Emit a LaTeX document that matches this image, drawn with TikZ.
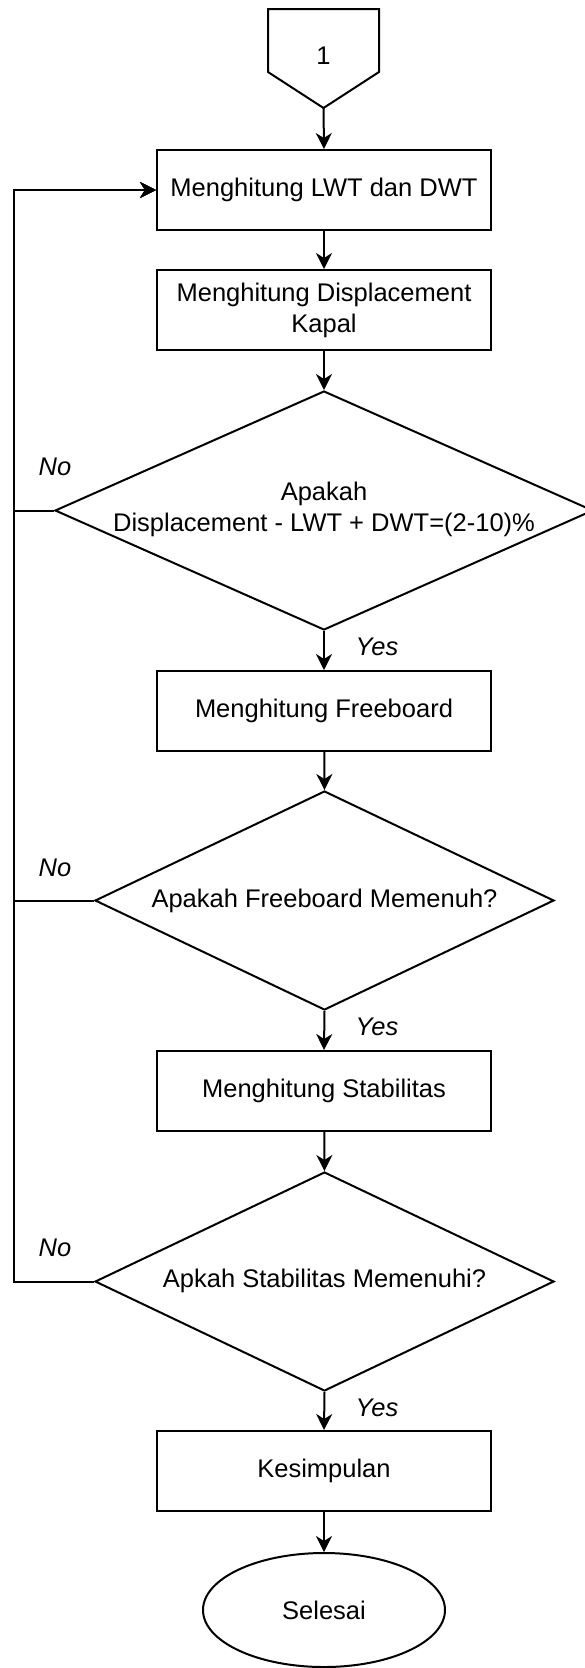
\documentclass[tikz,border=0pt]{standalone}
\usepackage{fontspec}
\setmainfont{Liberation Sans}
\usetikzlibrary{shapes.geometric,arrows.meta}

\begin{document}
\begin{tikzpicture}[x=1pt,y=-1pt,
  every node/.style={font=\fontsize{25.5}{31}\selectfont, text=black},
  line/.style={draw=black, line width=2pt},
  box/.style={line, rectangle, minimum width=334pt, minimum height=80pt, inner sep=0pt, align=center},
  decision/.style={line, diamond, inner sep=0pt},
  terminal/.style={line, ellipse, minimum width=242pt, minimum height=114pt, inner sep=0pt},
  flow/.style={line, -{Stealth[length=16pt,width=16pt,inset=5pt]}},
  answer/.style={font=\fontsize{25.5}{31}\selectfont\itshape},
]
\useasboundingbox (0,0) rectangle (584,1668);

% off-page connector "1"
\draw[line, line join=miter] (268,9) -- (379,9) -- (379,72) -- (323.5,108) -- (268,72) -- cycle;
\coordinate (ctip) at (323.5,108);
\node (c1) at (323.5,56) {1};

% process steps
\node[box] (b1) at (324,190) {Menghitung LWT dan DWT};
\node[box] (b2) at (324,310) {Menghitung Displacement\\Kapal};
\node[decision, minimum width=538pt, minimum height=239pt] (d1) at (324,510.5) {};
\node[align=center] (t1) at (324,509) {Apakah\\Displacement - LWT + DWT=(2-10)\%};
\node[box] (b3) at (324,711) {Menghitung Freeboard};
\node[decision, minimum width=459pt, minimum height=219pt] (d2) at (324.5,900.5) {};
\node (t2) at (324.5,901) {Apakah Freeboard Memenuh?};
\node[box] (b4) at (324,1091) {Menghitung Stabilitas};
\node[decision, minimum width=459pt, minimum height=219pt] (d3) at (324.5,1281.5) {};
\node (t3) at (324.5,1281) {Apkah Stabilitas Memenuhi?};
\node[box] (b5) at (324,1471) {Kesimpulan};
\node[terminal] (e1) at (324,1610) {Selesai};

% main flow
\draw[flow] (ctip) -- (b1.north);
\draw[flow] (b1) -- (b2);
\draw[flow] (b2) -- (d1.north);
\draw[flow] (d1.south) -- (b3.north);
\draw[flow] (b3) -- (d2.north);
\draw[flow] (d2.south) -- (b4.north);
\draw[flow] (b4) -- (d3.north);
\draw[flow] (d3.south) -- (b5.north);
\draw[flow] (b5) -- (e1);

% loops back to the first step
\coordinate (loop) at (14,190);
\draw[flow] (d1.west) -| (loop) -- (b1.west);
\draw[flow] (d2.west) -| (loop) -- (b1.west);
\draw[flow] (d3.west) -| (loop) -- (b1.west);

% branch labels
\node[answer] (n1) at (55,467) {No};
\node[answer] (n2) at (55,868) {No};
\node[answer] (n3) at (55,1248) {No};
\node[answer] (y1) at (377,647) {Yes};
\node[answer] (y2) at (377,1027) {Yes};
\node[answer] (y3) at (377,1408) {Yes};
\end{tikzpicture}
\end{document}
